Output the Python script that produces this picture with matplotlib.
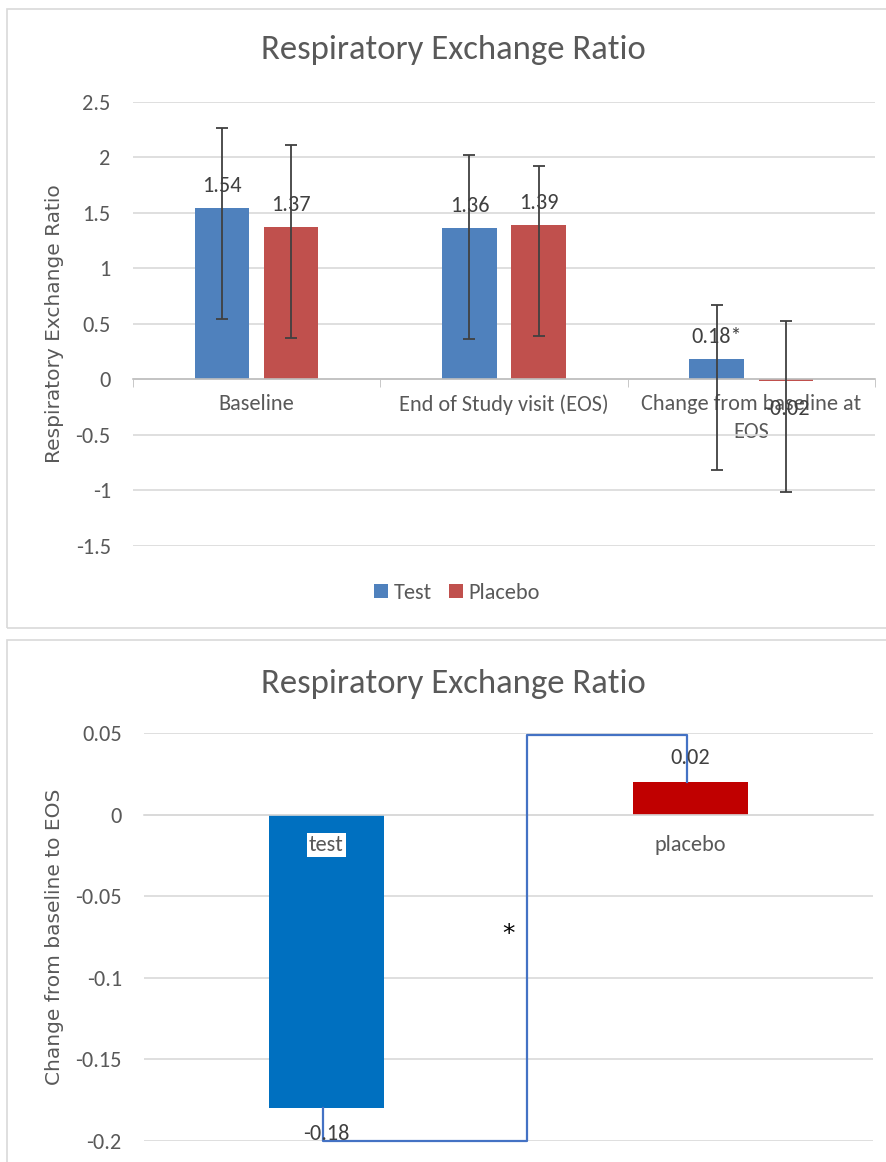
import numpy as np
import matplotlib.pyplot as plt
from matplotlib import font_manager
from matplotlib.patches import Rectangle

# Pick a narrow sans face for the chart text
installed = {f.name for f in font_manager.fontManager.ttflist}
for cand in ['Carlito', 'Liberation Sans Narrow', 'Liberation Sans']:
    if cand in installed:
        body_font = cand
        break
label_font = 'DejaVu Sans'
grey_text = '#595959'
value_text = '#404040'

# Upper chart data
categories = ['Baseline', 'End of Study visit (EOS)', 'Change from baseline at\nEOS']
test_vals = [1.54, 1.36, 0.18]
placebo_vals = [1.37, 1.39, -0.02]
test_err_up = [0.72, 0.66, 0.49]
test_err_down = [1.0, 1.0, 1.0]
placebo_err_up = [0.74, 0.53, 0.54]
placebo_err_down = [1.0, 1.0, 1.0]
test_labels = ['1.54', '1.36', '0.18*']
placebo_labels = ['1.37', '1.39', '-0.02']

# Lower chart data
groups = ['test', 'placebo']
change_vals = [-0.18, 0.02]

W, H = 887, 1162
fig = plt.figure(figsize=(W / 100, H / 100), dpi=100)

def px_box(x0, y0, x1, y1):
    return [x0 / W, 1 - y1 / H, (x1 - x0) / W, (y1 - y0) / H]

def value_labels(ax, xs, vals, texts, up=16, down=20):
    # value text just beyond the bar end, ignoring the error bars
    for xi, v, t in zip(xs, vals, texts):
        dy = up if v >= 0 else -down
        ax.annotate(t, (xi, v), xytext=(0, dy), textcoords='offset points',
                    ha='center', va='center', fontsize=16, color=value_text,
                    family=body_font, zorder=5)

# panel frames
for (x0, y0, x1, y1) in [(7, 9, 900, 628), (7, 640, 900, 1200)]:
    b = px_box(x0, y0, x1, y1)
    fig.patches.append(Rectangle((b[0], b[1]), b[2], b[3], transform=fig.transFigure,
                                 fill=False, edgecolor='#d9d9d9', lw=1.2))

# ---------------- upper chart ----------------
ax1 = fig.add_axes(px_box(133, 101.6, 875, 545.6))
# spine moves reset the ticks, so do it first
for s in ['top', 'right', 'left']:
    ax1.spines[s].set_visible(False)
ax1.spines['bottom'].set_position(('data', 0))
ax1.spines['bottom'].set_color('#bfbfbf')
ax1.spines['bottom'].set_linewidth(1.2)

x = np.arange(len(categories))
bw = 0.22
off = 0.14
ekw = dict(ecolor='#404040', elinewidth=1.3, capthick=1.3, zorder=3)
b1 = ax1.bar(x - off, test_vals, bw, color='#4F81BD', label='Test', zorder=2,
             yerr=[test_err_down, test_err_up], capsize=4, error_kw=ekw)
b2 = ax1.bar(x + off, placebo_vals, bw, color='#C0504D', label='Placebo', zorder=2,
             yerr=[placebo_err_down, placebo_err_up], capsize=4, error_kw=ekw)
value_labels(ax1, x - off, test_vals, test_labels)
value_labels(ax1, x + off, placebo_vals, placebo_labels)

ax1.set_ylim(-1.5, 2.5)
ax1.set_xlim(-0.5, 2.5)
ax1.set_yticks(np.arange(-1.5, 2.51, 0.5))
ax1.set_yticklabels(['-1.5', '-1', '-0.5', '0', '0.5', '1', '1.5', '2', '2.5'])
ax1.set_xticks(x)
ax1.set_xticklabels(categories, linespacing=1.45)
ax1.set_xticks([-0.5, 0.5, 1.5, 2.5], minor=True)
ax1.tick_params(axis='x', which='major', length=0, pad=11)
ax1.tick_params(axis='x', which='minor', length=6, color='#bfbfbf', direction='out')
ax1.tick_params(axis='y', length=0, pad=16)
for lab in ax1.get_xticklabels() + ax1.get_yticklabels():
    lab.set_family(body_font)
    lab.set_fontsize(16)
    lab.set_color(grey_text)
ax1.grid(axis='y', color='#d9d9d9', lw=1.2, zorder=0)
ax1.set_axisbelow(True)
ax1.set_ylabel('Respiratory Exchange Ratio', family=label_font, fontsize=14.5,
               color=grey_text)
ax1.yaxis.set_label_coords(-0.093, 0.5)
fig.text(453 / W, 1 - 50 / H, 'Respiratory Exchange Ratio', ha='center', va='center',
         family=body_font, fontsize=25, color=grey_text)
fig.legend(handles=[b1, b2], labels=['Test', 'Placebo'], loc='center',
           bbox_to_anchor=(457 / W, 1 - 593 / H), ncol=2, frameon=False,
           prop=dict(family=body_font, size=16), handlelength=0.6, handleheight=0.6,
           handletextpad=0.25, columnspacing=0.8, labelcolor=grey_text)

# ---------------- lower chart ----------------
ax2 = fig.add_axes(px_box(144, 733, 873, 1140.6))
for s in ['top', 'right', 'left']:
    ax2.spines[s].set_visible(False)
ax2.spines['bottom'].set_position(('data', 0))
ax2.spines['bottom'].set_color('#d9d9d9')
ax2.spines['bottom'].set_linewidth(1.2)

xp = np.arange(len(groups))
c = ax2.bar(xp, change_vals, 0.315, color=['#0070C0', '#C00000'], zorder=2)
value_labels(ax2, xp, change_vals, [f'{v:.2f}' for v in change_vals], up=17, down=19)
ax2.set_xlim(-0.5, 1.5)
ax2.set_ylim(-0.2, 0.05)
ax2.set_yticks(np.arange(-0.2, 0.051, 0.05))
ax2.set_yticklabels(['-0.2', '-0.15', '-0.1', '-0.05', '0', '0.05'])
ax2.set_xticks(xp)
ax2.set_xticklabels([])
ax2.tick_params(axis='x', length=0)
ax2.tick_params(axis='y', length=0, pad=16)
for lab in ax2.get_yticklabels():
    lab.set_family(body_font)
    lab.set_fontsize(16)
    lab.set_color(grey_text)
# category names sit just under the zero line, over the bars
for xi, g in zip(xp, groups):
    t = ax2.annotate(g, (xi, 0), xytext=(0, -22), textcoords='offset points',
                     ha='center', va='center', fontsize=16, color=grey_text,
                     family=body_font, zorder=5)
    if g == 'test':
        t.set_bbox(dict(facecolor='white', edgecolor='none', pad=1.5))
ax2.grid(axis='y', color='#d9d9d9', lw=1.2, zorder=0)
ax2.set_axisbelow(True)
ax2.set_ylabel('Change from baseline to EOS', family=label_font, fontsize=14.5, color=grey_text)
ax2.yaxis.set_label_coords(-0.110, 0.5)
fig.text(453 / W, 1 - 684 / H, 'Respiratory Exchange Ratio', ha='center', va='center',
         family=body_font, fontsize=25, color=grey_text)

# significance bracket between the two bars
lo, hi = ax2.get_ylim()
mid = 0.55
bx = [xp[0] - 0.01, xp[0] - 0.01, mid, mid, xp[1] - 0.01, xp[1] - 0.01]
by = [change_vals[0], lo, lo, hi - 0.0012, hi - 0.0012, change_vals[1]]
ax2.plot(bx, by, color='#4472C4', lw=1.6, clip_on=False, zorder=3)
ax2.text(0.5, -0.073, '*', ha='center', va='center', fontsize=18, color='black',
         family='DejaVu Sans')

plt.savefig('out.png', dpi=100)
plt.close()
